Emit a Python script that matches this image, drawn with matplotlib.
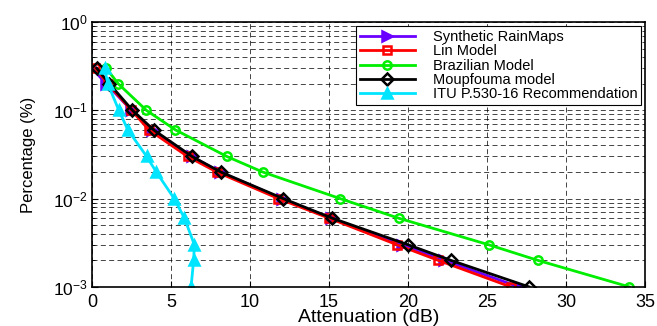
"""Rain attenuation exceedance curves: synthetic rain maps vs. prediction models."""

import matplotlib

matplotlib.use("Agg")
import matplotlib.pyplot as plt
from matplotlib.ticker import LogLocator, NullFormatter

plt.rcParams["font.family"] = ["Liberation Sans", "DejaVu Sans"]
plt.rcParams["mathtext.fontset"] = "custom"
plt.rcParams["mathtext.rm"] = "Liberation Sans"

# exceedance percentages shared by all curves
percent = [0.3, 0.2, 0.1, 0.06, 0.03, 0.02, 0.01, 0.006, 0.003, 0.002, 0.001]

# attenuation (dB) per model at each percentage
synthetic = [0.0, 0.9, 2.5, 3.8, 6.3, 8.1, 12.0, 15.1, 19.6, 22.3, 27.0]
lin = [0.2, 1.0, 2.5, 3.6, 6.05, 7.9, 11.8, 15.0, 19.3, 21.9, 26.5]
brazilian = [0.9, 1.66, 3.44, 5.28, 8.53, 10.8, 15.7, 19.4, 25.1, 28.2, 34.0]
moupfouma = [0.3, 1.1, 2.56, 3.9, 6.33, 8.15, 12.1, 15.2, 20.0, 22.7, 27.65]
itu = [0.8, 1.0, 1.7, 2.27, 3.46, 4.07, 5.2, 5.85, 6.48, 6.43, 6.27]

series = [
    ("Synthetic RainMaps", synthetic, "#6a00ff", ">", True),
    ("Lin Model", lin, "#ff0000", "s", False),
    ("Brazilian Model", brazilian, "#00ee00", "o", False),
    ("Moupfouma model", moupfouma, "black", "D", False),
    ("ITU P.530-16 Recommendation", itu, "#00e5ff", "^", True),
]

fig = plt.figure(figsize=(6.57, 3.26), dpi=100)
ax = fig.add_axes([0.140, 0.12, 0.842, 0.8125])

for label, x, color, marker, filled in series:
    ax.plot(x, percent, color=color, lw=2.0, marker=marker, ms=7 if filled else 6,
            mfc=color if filled else "none", mec=color, mew=1.8, label=label)

ax.set_yscale("log")
ax.set_xlim(0, 35)
ax.set_ylim(1e-3, 1)
ax.set_xticks(range(0, 36, 5))
ax.yaxis.set_major_locator(LogLocator(base=10))
ax.yaxis.set_minor_locator(LogLocator(base=10, subs=range(2, 10)))
ax.yaxis.set_minor_formatter(NullFormatter())
ax.grid(True, which="both", color="black", ls=(0, (6, 4)), lw=0.6, alpha=0.85)
ax.tick_params(axis="x", labelsize=13, direction="in", length=4, pad=5)
ax.tick_params(axis="y", labelsize=12.5, direction="in", length=4, pad=3)
ax.tick_params(which="minor", direction="in", length=2.5)
for spine in ax.spines.values():
    spine.set_linewidth(1.2)

ax.set_xlabel("Attenuation (dB)", fontsize=14, labelpad=-1)
ax.set_ylabel("Percentage (%)", fontsize=12, labelpad=12)

leg = ax.legend(loc="upper right", fontsize=10.5, frameon=True, fancybox=False,
                edgecolor="black", framealpha=1, handlelength=3.8, labelspacing=0.02,
                borderaxespad=0.3, handletextpad=1.2, borderpad=0.25)
leg.get_frame().set_linewidth(0.8)

fig.savefig("out.png", dpi=100)
